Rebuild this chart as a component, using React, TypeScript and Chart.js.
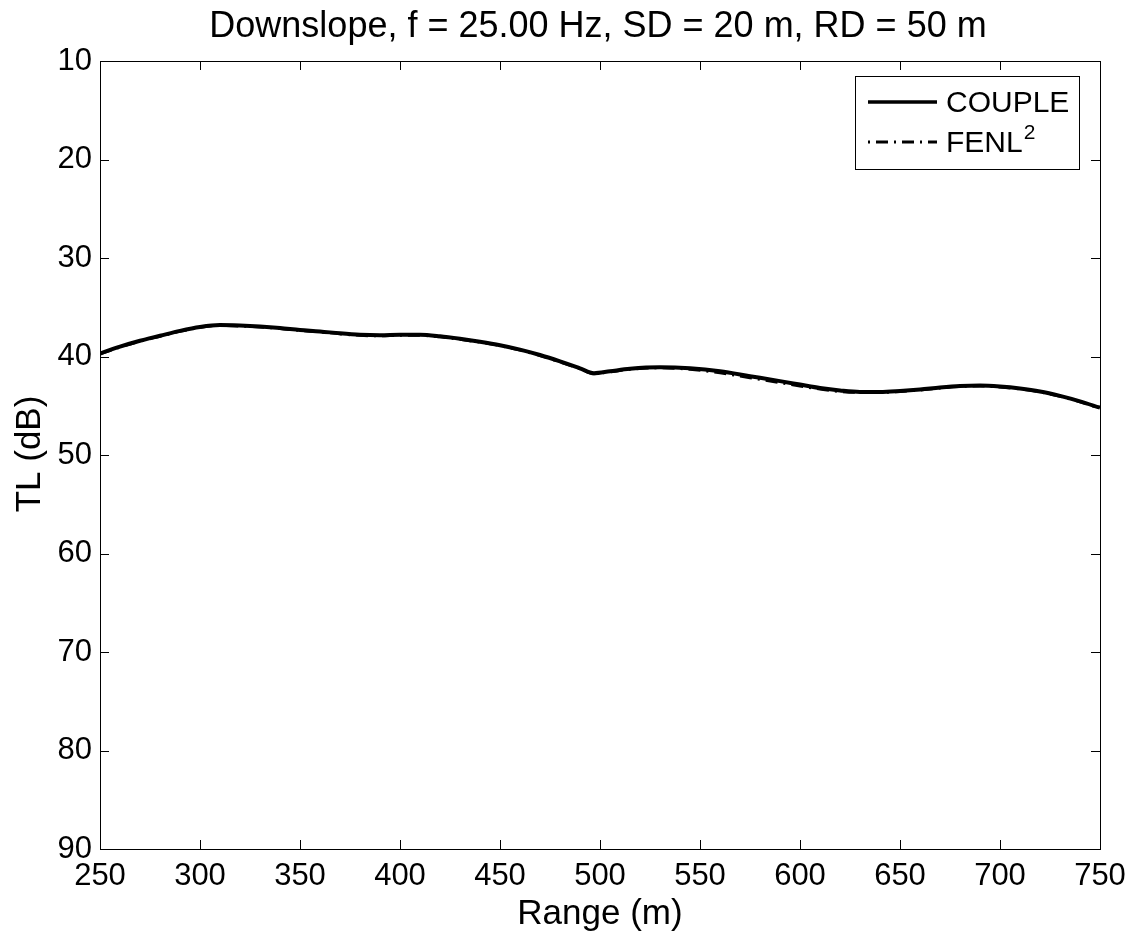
import { useEffect, useRef } from "react";
import { Chart, registerables } from "chart.js";

Chart.register(...registerables);

const titleText = "Downslope, f = 25.00 Hz, SD = 20 m, RD = 50 m";
const xTitle = "Range (m)";
const yTitle = "TL (dB)";

const rangeM = [
  250, 260, 270, 280, 290, 300, 310, 320, 330, 340, 350, 360, 370, 380, 390, 400,
  410, 420, 430, 440, 450, 460, 470, 480, 490, 497, 505, 515, 530, 545, 560, 575,
  590, 600, 610, 620, 630, 640, 650, 660, 670, 680, 690, 700, 710, 720, 730, 740, 750,
];

const coupleTL = [
  39.7, 39.0, 38.4, 37.9, 37.4, 37.0, 36.8, 36.85, 36.95, 37.1, 37.3, 37.45, 37.65, 37.8, 37.85, 37.8,
  37.8, 37.95, 38.2, 38.5, 38.85, 39.3, 39.85, 40.5, 41.2, 41.7, 41.5, 41.25, 41.1, 41.2, 41.5, 42.0,
  42.5, 42.85, 43.2, 43.45, 43.6, 43.6, 43.5, 43.35, 43.15, 43.0, 42.95, 43.05, 43.25, 43.55, 44.0, 44.55, 45.2,
];

const fenlTL = [
  39.75, 39.05, 38.45, 37.95, 37.45, 37.05, 36.85, 36.9, 37.0, 37.15, 37.35, 37.5, 37.7, 37.85, 37.9, 37.85,
  37.85, 38.0, 38.25, 38.55, 38.9, 39.35, 39.9, 40.55, 41.25, 41.75, 41.55, 41.3, 41.15, 41.3, 41.65, 42.15,
  42.65, 43.0, 43.3, 43.55, 43.65, 43.65, 43.55, 43.4, 43.2, 43.05, 43.0, 43.1, 43.3, 43.6, 44.05, 44.6, 45.25,
];

const seriesNames = ["COUPLE", "FENL"];
const FONT = "'Liberation Sans', Arial, Helvetica, sans-serif";

export default function App() {
  const ref = useRef<HTMLCanvasElement | null>(null);

  useEffect(() => {
    if (!ref.current) return;

    const framePlugin = {
      id: "matlabFrame",
      afterDraw(chart: any) {
        const { ctx, chartArea: a, scales } = chart;
        const xs = scales.x;
        const ys = scales.y;
        ctx.save();
        ctx.strokeStyle = "#000";
        ctx.lineWidth = 1;
        ctx.setLineDash([]);
        ctx.strokeRect(a.left + 0.5, a.top + 0.5, a.right - a.left, a.bottom - a.top);
        const tl = 9;
        ctx.beginPath();
        xs.ticks.forEach((t: any) => {
          const px = Math.round(xs.getPixelForValue(t.value)) + 0.5;
          ctx.moveTo(px, a.bottom);
          ctx.lineTo(px, a.bottom - tl);
          ctx.moveTo(px, a.top);
          ctx.lineTo(px, a.top + tl);
        });
        ys.ticks.forEach((t: any) => {
          const py = Math.round(ys.getPixelForValue(t.value)) + 0.5;
          ctx.moveTo(a.left, py);
          ctx.lineTo(a.left + tl, py);
          ctx.moveTo(a.right, py);
          ctx.lineTo(a.right - tl, py);
        });
        ctx.stroke();

        // titles
        ctx.fillStyle = "#000";
        ctx.textAlign = "center";
        ctx.textBaseline = "alphabetic";
        ctx.font = `36px ${FONT}`;
        const cx = (a.left + a.right) / 2;
        ctx.fillText(titleText, cx - 2, 37);
        ctx.font = `35px ${FONT}`;
        ctx.fillText(xTitle, cx, 924);
        ctx.save();
        ctx.translate(40, (a.top + a.bottom) / 2 - 1);
        ctx.rotate(-Math.PI / 2);
        ctx.fillText(yTitle, 0, 0);
        ctx.restore();

        // legend
        const lx = 855, ly = 76, lw = 224, lh = 93;
        ctx.fillStyle = "#fff";
        ctx.fillRect(lx, ly, lw, lh);
        ctx.strokeStyle = "#000";
        ctx.lineWidth = 1;
        ctx.strokeRect(lx + 0.5, ly + 0.5, lw, lh);

        ctx.lineWidth = 3.5;
        ctx.beginPath();
        ctx.moveTo(868, 102);
        ctx.lineTo(937, 102);
        ctx.stroke();

        ctx.lineWidth = 3;
        ctx.setLineDash([2, 6, 12, 6]);
        ctx.beginPath();
        ctx.moveTo(868, 142);
        ctx.lineTo(937, 142);
        ctx.stroke();
        ctx.setLineDash([]);

        ctx.fillStyle = "#000";
        ctx.textAlign = "left";
        ctx.font = `30px ${FONT}`;
        ctx.fillText(seriesNames[0], 946, 112);
        ctx.fillText(seriesNames[1], 946, 152);
        const w = ctx.measureText(seriesNames[1]).width;
        ctx.font = `21px ${FONT}`;
        ctx.fillText("2", 946 + w + 1, 139);
        ctx.restore();
      },
    };

    const chart = new Chart(ref.current, {
      type: "line",
      data: {
        datasets: [
          {
            label: "COUPLE",
            data: rangeM.map((r, i) => ({ x: r, y: coupleTL[i] })),
            borderColor: "#000",
            borderWidth: 4,
            pointRadius: 0,
            cubicInterpolationMode: "monotone",
            fill: false,
          },
          {
            label: "FENL²",
            data: rangeM.map((r, i) => ({ x: r, y: fenlTL[i] })),
            borderColor: "#000",
            borderWidth: 3,
            borderDash: [12, 6, 2, 6],
            pointRadius: 0,
            cubicInterpolationMode: "monotone",
            fill: false,
          },
        ],
      },
      options: {
        animation: false,
        responsive: false,
        maintainAspectRatio: false,
        layout: { padding: { top: 61, right: 35, left: 0, bottom: 0 } },
        plugins: {
          legend: { display: false },
          title: { display: false },
          tooltip: { enabled: false },
        },
        scales: {
          x: {
            type: "linear",
            min: 250,
            max: 750,
            grid: { display: false, drawTicks: false },
            border: { display: false },
            ticks: {
              stepSize: 50,
              padding: 9,
              color: "#000",
              font: { family: FONT, size: 31 },
              maxRotation: 0,
            },
            afterFit(scale: any) {
              scale.height = 88;
            },
          },
          y: {
            type: "linear",
            min: 10,
            max: 90,
            reverse: true,
            grid: { display: false, drawTicks: false },
            border: { display: false },
            ticks: {
              stepSize: 10,
              padding: 8,
              color: "#000",
              font: { family: FONT, size: 31 },
            },
            afterFit(scale: any) {
              scale.width = 100;
            },
          },
        },
      },
      plugins: [framePlugin],
    } as any);

    return () => chart.destroy();
  }, []);

  return (
    <div style={{ position: "absolute", left: 0, top: 0, width: 1135, height: 937, background: "#fff" }}>
      <canvas ref={ref} width={1135} height={937} />
    </div>
  );
}
